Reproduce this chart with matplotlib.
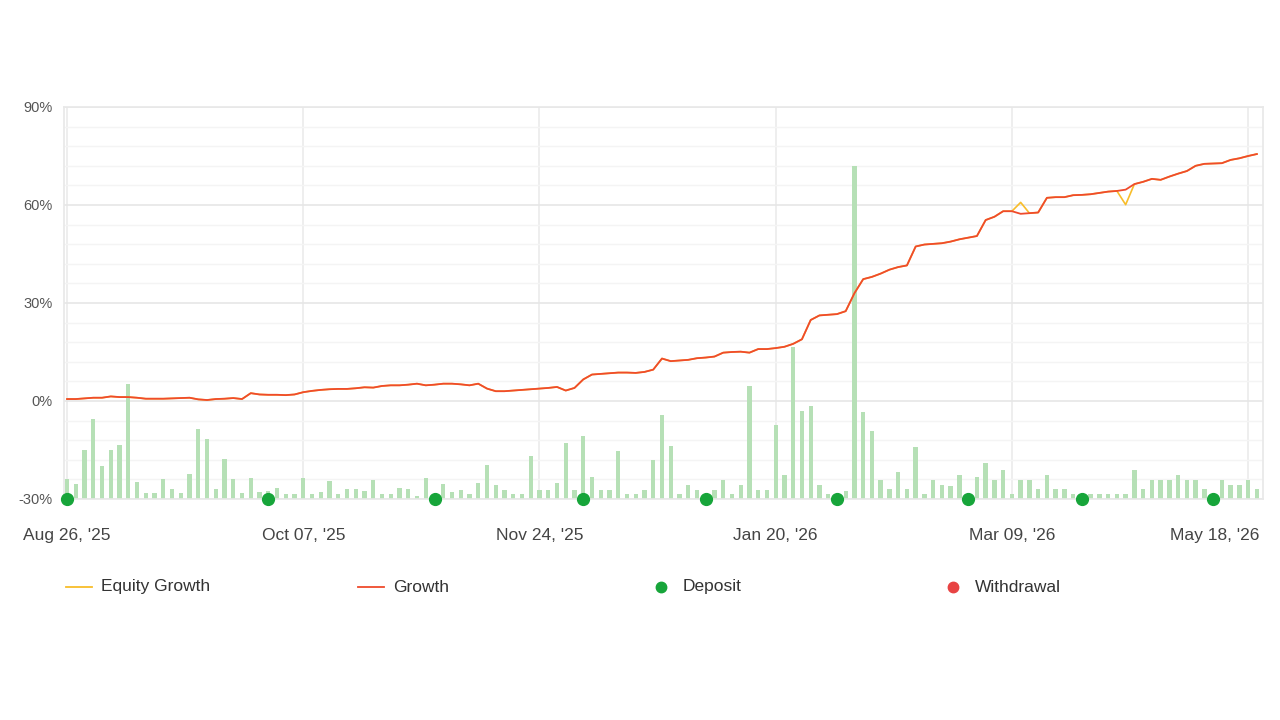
import matplotlib
matplotlib.use("Agg")
import matplotlib.pyplot as plt
from matplotlib.lines import Line2D
from matplotlib.transforms import ScaledTranslation
import numpy as np

plt.rcParams["font.family"] = ["Liberation Sans", "DejaVu Sans"]

# growth (%) per data point
growth = [0.6, 0.6, 0.8, 1.0, 1.0, 1.4, 1.2, 1.2, 1.0, 0.7,
          0.7, 0.7, 0.8, 0.9, 1.0, 0.5, 0.3, 0.6, 0.7, 0.9,
          0.6, 2.4, 2.0, 1.9, 1.9, 1.8, 2.0, 2.7, 3.1, 3.4,
          3.6, 3.7, 3.7, 3.9, 4.2, 4.1, 4.6, 4.8, 4.8, 5.0,
          5.3, 4.8, 5.0, 5.3, 5.3, 5.1, 4.8, 5.3, 3.8, 3.0,
          3.0, 3.2, 3.4, 3.6, 3.8, 4.0, 4.3, 3.2, 4.0, 6.6,
          8.1, 8.3, 8.5, 8.7, 8.7, 8.6, 8.9, 9.6, 13.0, 12.2,
          12.4, 12.6, 13.1, 13.3, 13.6, 14.8, 15.0, 15.1, 14.8, 15.9,
          15.9, 16.2, 16.6, 17.5, 18.9, 24.8, 26.2, 26.4, 26.6, 27.5,
          33.0, 37.3, 38.0, 39.0, 40.2, 41.0, 41.5, 47.3, 47.9, 48.1,
          48.3, 48.8, 49.5, 50.0, 50.5, 55.4, 56.4, 58.1, 58.1, 57.3,
          57.5, 57.7, 62.2, 62.4, 62.4, 63.0, 63.1, 63.3, 63.7, 64.1,
          64.3, 64.7, 66.4, 67.1, 68.0, 67.7, 68.7, 69.6, 70.4, 72.0,
          72.6, 72.7, 72.8, 73.8, 74.3, 75.0, 75.6]

# equity growth differs from growth only at a couple of points
equity = list(growth)
equity[109] = 60.8
equity[121] = 60.1

# daily bars (height above the -30% baseline, same scale)
bars = [6.1, 4.7, 15.0, 24.4, 10.0, 15.0, 16.5, 35.3, 5.1, 1.8,
        1.8, 6.1, 3.0, 1.8, 7.6, 21.3, 18.5, 3.0, 12.1, 6.1,
        1.8, 6.4, 2.0, 2.4, 3.5, 1.5, 1.5, 6.3, 1.5, 2.0,
        5.5, 1.5, 3.0, 3.0, 2.4, 5.9, 1.5, 1.5, 3.5, 3.0,
        1.0, 6.3, 1.4, 4.5, 2.0, 2.8, 1.4, 4.8, 10.4, 4.4,
        2.8, 1.4, 1.4, 13.3, 2.8, 2.8, 4.8, 17.2, 2.8, 19.3,
        6.8, 2.8, 2.8, 14.8, 1.4, 1.4, 2.8, 12.0, 25.7, 16.2,
        1.4, 4.3, 2.8, 1.4, 2.8, 5.8, 1.4, 4.3, 34.6, 2.8,
        2.8, 22.7, 7.3, 46.4, 27.0, 28.6, 4.3, 1.4, 1.4, 2.4,
        102.0, 26.6, 20.8, 5.8, 3.0, 8.4, 3.0, 15.9, 1.4, 5.8,
        4.4, 3.9, 7.3, 1.4, 6.8, 10.9, 5.8, 8.9, 1.4, 5.8,
        5.8, 3.0, 7.3, 3.0, 3.0, 1.4, 1.4, 1.4, 1.4, 1.4,
        1.4, 1.4, 8.9, 3.0, 5.8, 5.8, 5.8, 7.3, 5.8, 5.8,
        3.0, 1.4, 5.8, 4.4, 4.4, 5.8, 3.0]

deposit_idx = [0, 23, 42, 59, 73, 88, 103, 116, 131]
tick_idx = [0, 27, 54, 81, 108, 135]
tick_labels = ["Aug 26, '25", "Oct 07, '25", "Nov 24, '25",
               "Jan 20, '26", "Mar 09, '26", "May 18, '26"]

RED = "#ef4b2c"
YELLOW = "#f8bd2a"
GREEN_BAR = "#b6e0b6"
GREEN_DOT = "#17a53a"
WD_RED = "#e84343"

x = np.arange(len(growth))
base = -30

fig = plt.figure(figsize=(12.8, 7.2), dpi=100)
ax = fig.add_axes([64 / 1280, 1 - 499 / 720, (1263 - 64) / 1280, (499 - 107) / 720])

ax.bar(x, bars, bottom=base, width=0.5, color=GREEN_BAR, zorder=2)
ax.plot(x, equity, color=YELLOW, lw=1.2, zorder=3)
ax.plot(x, growth, color=RED, lw=1.3, zorder=4)
ax.plot(deposit_idx, [base] * len(deposit_idx), "o", color=GREEN_DOT,
        markersize=8.5, zorder=6, clip_on=False)

ax.set_xlim(-0.35, 136.7)
ax.set_ylim(-30, 90)
ax.set_yticks([-30, 0, 30, 60, 90])
ax.set_yticklabels(["-30%", "0%", "30%", "60%", "90%"])
ax.set_yticks(np.arange(-30, 91, 6), minor=True)
ax.set_xticks(tick_idx)
ax.set_xticklabels(tick_labels)

ax.grid(axis="y", which="major", color="#e6e6e6", lw=1.2, zorder=0)
ax.grid(axis="y", which="minor", color="#f4f4f4", lw=1.0, zorder=0)
ax.grid(axis="x", which="major", color="#ebebeb", lw=1.2, zorder=0)
ax.set_axisbelow(True)

for s in ax.spines.values():
    s.set_color("#e8e8e8")
    s.set_linewidth(1.2)

ax.tick_params(axis="y", which="both", length=0, pad=8, labelsize=10.5,
               labelcolor="#555555")
ax.tick_params(axis="x", length=0, pad=21, labelsize=12.5, labelcolor="#444444")

# last date label is pulled inside the plot edge
last = ax.get_xticklabels()[-1]
last.set_transform(last.get_transform() +
                   ScaledTranslation(-0.33, 0, fig.dpi_scale_trans))

# legend row
leg_items = [("Equity Growth", "line", YELLOW), ("Growth", "line", RED),
             ("Deposit", "dot", GREEN_DOT), ("Withdrawal", "dot", WD_RED)]
ly = 1 - 587 / 720
for k, (name, kind, col) in enumerate(leg_items):
    x0 = (66 + 292 * k) / 1280
    if kind == "line":
        fig.add_artist(Line2D([x0, x0 + 26 / 1280], [ly, ly], color=col, lw=1.3))
        tx = x0 + 35 / 1280
    else:
        fig.add_artist(Line2D([x0 + 11 / 1280], [ly], marker="o", color=col,
                              markersize=7.5, lw=0))
        tx = x0 + 33 / 1280
    fig.text(tx, ly, name, fontsize=12.5, color="#333333", va="center", ha="left")

fig.savefig("out.png", dpi=100, facecolor="white")
